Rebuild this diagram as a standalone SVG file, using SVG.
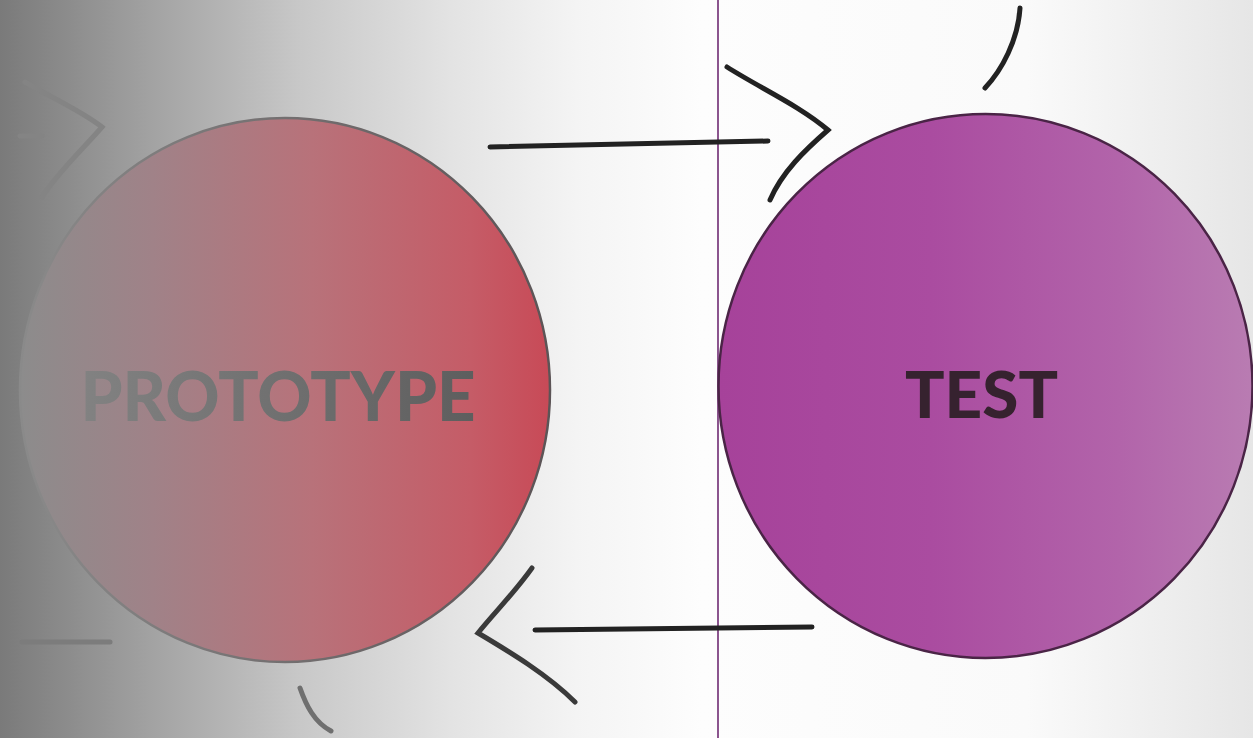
<svg xmlns="http://www.w3.org/2000/svg" width="1253" height="738" viewBox="0 0 1253 738">
<defs>
<linearGradient id="bg" x1="0" y1="0" x2="1253" y2="0" gradientUnits="userSpaceOnUse">
<stop offset="0" stop-color="#7a7a7a"/>
<stop offset="0.12" stop-color="#a2a2a2"/>
<stop offset="0.24" stop-color="#c8c8c8"/>
<stop offset="0.36" stop-color="#e3e3e3"/>
<stop offset="0.46" stop-color="#f4f4f4"/>
<stop offset="0.56" stop-color="#fdfdfd"/>
<stop offset="0.82" stop-color="#fafafa"/>
<stop offset="1" stop-color="#e6e6e6"/>
</linearGradient>
<linearGradient id="protoFill" x1="20" y1="0" x2="550" y2="0" gradientUnits="userSpaceOnUse">
<stop offset="0" stop-color="#8c8c8c"/>
<stop offset="0.25" stop-color="#a08288"/>
<stop offset="0.55" stop-color="#b8727a"/>
<stop offset="0.85" stop-color="#c55c67"/>
<stop offset="1" stop-color="#c84a57"/>
</linearGradient>
<linearGradient id="protoText" x1="80" y1="0" x2="475" y2="0" gradientUnits="userSpaceOnUse">
<stop offset="0" stop-color="#828282"/>
<stop offset="1" stop-color="#5e5e5e"/>
</linearGradient>
<linearGradient id="protoStroke" x1="20" y1="0" x2="550" y2="0" gradientUnits="userSpaceOnUse">
<stop offset="0" stop-color="#8a8a8a"/>
<stop offset="1" stop-color="#5c5456"/>
</linearGradient>
<linearGradient id="testFill" x1="718" y1="0" x2="1253" y2="0" gradientUnits="userSpaceOnUse">
<stop offset="0" stop-color="#a6429a"/>
<stop offset="0.4" stop-color="#aa4ca0"/>
<stop offset="0.75" stop-color="#b264aa"/>
<stop offset="1" stop-color="#b97cb2"/>
</linearGradient>
<style>
.ink{fill:none;stroke:#222222;stroke-width:5;stroke-linecap:round;stroke-linejoin:miter}
.faded{fill:none;stroke:#848484;stroke-width:5;stroke-linecap:round}
.faded2{fill:none;stroke:#6f6f6f;stroke-width:5;stroke-linecap:round}
.label{font-family:Lato,"Liberation Sans",Arial,sans-serif;font-weight:900;text-anchor:middle}
</style>
</defs>
<rect x="0" y="0" width="1253" height="738" fill="url(#bg)"/>
<line x1="718" y1="0" x2="718" y2="738" stroke="#6e2a72" stroke-width="1.6"/>
<g id="connectors">
<path class="ink" d="M490,147 L768,141" stroke-width="4"/>
<path class="ink" d="M727,67 C760,88 800,106 828,130 C805,150 782,172 770,200"/>
<path class="ink" d="M1020,8 C1018,40 1002,70 985,88"/>
<path class="ink" d="M535,630 L812,627" stroke-width="4"/>
<path class="ink" d="M532,568 C515,592 495,612 478,633 C510,652 548,675 575,702" style="stroke:#3a3a3a"/>
<path class="faded2" d="M300,688 C306,705 314,722 331,731"/>
<path class="faded" d="M25,82 C52,98 80,110 102,127 C82,150 58,172 42,197"/>
<path class="faded" d="M20,136 L42,136" stroke-width="3"/>
<path class="faded" d="M22,642 L110,642" stroke-width="4" style="stroke:#7c7c7c"/>
</g>
<g id="prototype">
<ellipse cx="285" cy="390" rx="265" ry="272" fill="url(#protoFill)" stroke="url(#protoStroke)" stroke-width="2.5"/>
<text class="label" x="278" y="421" font-size="68" fill="url(#protoText)" textLength="395" lengthAdjust="spacingAndGlyphs">PROTOTYPE</text>
</g>
<g id="test">
<ellipse cx="985.5" cy="386" rx="267" ry="272" fill="url(#testFill)" stroke="#4a2446" stroke-width="2.5"/>
<text class="label" x="981.5" y="418" font-size="64" fill="#36222f" textLength="153" lengthAdjust="spacingAndGlyphs">TEST</text>
</g>
</svg>
